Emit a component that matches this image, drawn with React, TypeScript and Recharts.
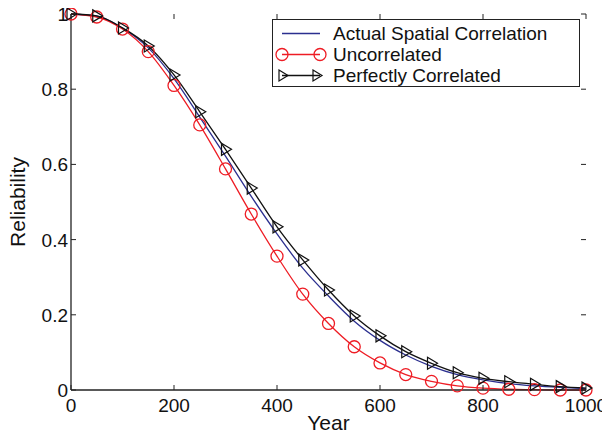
import { Label, Legend, Line, LineChart, XAxis, YAxis } from 'recharts';

const years = [0, 50, 100, 150, 200, 250, 300, 350, 400, 450, 500, 550, 600, 650, 700, 750, 800, 850, 900, 950, 1000];
const actual = [1, 0.994, 0.962, 0.91, 0.828, 0.726, 0.622, 0.515, 0.415, 0.324, 0.25, 0.183, 0.132, 0.093, 0.063, 0.041, 0.027, 0.017, 0.011, 0.007, 0.004];
const uncorrelated = [1, 0.992, 0.96, 0.9, 0.81, 0.705, 0.588, 0.468, 0.356, 0.255, 0.177, 0.115, 0.072, 0.041, 0.023, 0.011, 0.005, 0.002, 0.001, 0, 0];
const perfect = [1, 0.995, 0.963, 0.915, 0.838, 0.74, 0.64, 0.537, 0.434, 0.346, 0.266, 0.197, 0.144, 0.102, 0.071, 0.046, 0.031, 0.022, 0.015, 0.009, 0.005];
const xTicks = [0, 200, 400, 600, 800, 1000];
const yTicks = [0, 0.2, 0.4, 0.6, 0.8, 1];

const data = years.map((year, i) => ({
  year,
  actual: actual[i],
  uncorrelated: uncorrelated[i],
  perfect: perfect[i],
}));

const TOP = 6;
const BOTTOM = 382;
const LEFT = 63;
const RIGHT = 578;
const FONT = '"Liberation Sans", Arial, sans-serif';
const AXIS = '#222';
const RED = '#ee1c24';
const BLUE = '#2b2f8f';
const BLACK = '#111';

const XTick = (props: any) => {
  const x = props.payload.coordinate;
  return (
    <g>
      <line x1={x} x2={x} y1={BOTTOM} y2={BOTTOM - 5} stroke={AXIS} />
      <line x1={x} x2={x} y1={TOP} y2={TOP + 5} stroke={AXIS} />
      <text x={x} y={BOTTOM + 22} textAnchor="middle" fontSize={19} fontFamily={FONT} fill="#111">
        {props.payload.value}
      </text>
    </g>
  );
};

const YTick = (props: any) => {
  const y = props.payload.coordinate;
  return (
    <g>
      <line x1={LEFT} x2={LEFT + 5} y1={y} y2={y} stroke={AXIS} />
      <line x1={RIGHT} x2={RIGHT - 5} y1={y} y2={y} stroke={AXIS} />
      <text x={LEFT - 3} y={y + 7} textAnchor="end" fontSize={19} fontFamily={FONT} fill="#111">
        {props.payload.value}
      </text>
    </g>
  );
};

const Circle = (props: any) => {
  const { cx, cy } = props;
  if (cx == null || cy == null) return null;
  return <circle cx={cx} cy={cy} r={6} fill="none" stroke={RED} strokeWidth={1.3} />;
};

const Triangle = (props: any) => {
  const { cx, cy } = props;
  if (cx == null || cy == null) return null;
  return (
    <polygon
      points={`${cx - 4},${cy - 6} ${cx + 6},${cy} ${cx - 4},${cy + 6}`}
      fill="none"
      stroke={BLACK}
      strokeWidth={1.2}
    />
  );
};

const legendItems = [
  { name: 'Actual Spatial Correlation', color: BLUE, marker: 'none' },
  { name: 'Uncorrelated', color: RED, marker: 'circle' },
  { name: 'Perfectly Correlated', color: BLACK, marker: 'triangle' },
];

const LegendBox = () => (
  <div
    style={{
      border: '1px solid #222',
      background: '#fff',
      width: 308,
      height: 68,
      boxSizing: 'border-box',
      padding: '3px 0 0 0',
      fontFamily: FONT,
      fontSize: 19,
      color: '#111',
    }}
  >
    {legendItems.map((item) => (
      <div key={item.name} style={{ display: 'flex', alignItems: 'center', height: 21 }}>
        <svg width={56} height={21} style={{ flex: 'none' }}>
          <line x1={9} x2={47} y1={10.5} y2={10.5} stroke={item.color} strokeWidth={1.3} />
          {item.marker === 'circle' && (
            <>
              <circle cx={9} cy={10.5} r={6} fill="none" stroke={RED} strokeWidth={1.3} />
              <circle cx={47} cy={10.5} r={6} fill="none" stroke={RED} strokeWidth={1.3} />
            </>
          )}
          {item.marker === 'triangle' && (
            <>
              <polygon points="6,5 15,10.5 6,16" fill="none" stroke={BLACK} strokeWidth={1.2} />
              <polygon points="40,5 49,10.5 40,16" fill="none" stroke={BLACK} strokeWidth={1.2} />
            </>
          )}
        </svg>
        <span style={{ marginLeft: 4, whiteSpace: 'nowrap' }}>{item.name}</span>
      </div>
    ))}
  </div>
);

const YLabel = (props: any) => {
  const vb = props.viewBox;
  const cy = vb.y + vb.height / 2;
  return (
    <text
      x={17}
      y={cy}
      transform={`rotate(-90, 17, ${cy})`}
      textAnchor="middle"
      fontSize={21}
      fontFamily={FONT}
      fill="#111"
    >
      Reliability
    </text>
  );
};

const XLabel = (props: any) => {
  const vb = props.viewBox;
  return (
    <text x={vb.x + vb.width / 2} y={422} textAnchor="middle" fontSize={21} fontFamily={FONT} fill="#111">
      Year
    </text>
  );
};

export default function App() {
  return (
    <div style={{ width: 610, height: 435, background: '#fff' }}>
      <LineChart width={610} height={435} data={data} margin={{ top: TOP, right: 32, bottom: 0, left: 0 }}>
        <XAxis
          dataKey="year"
          type="number"
          domain={[0, 1000]}
          ticks={xTicks}
          tickLine={false}
          tick={<XTick />}
          axisLine={{ stroke: AXIS, strokeWidth: 1.3 }}
          height={53}
          interval={0}
        >
          <Label content={<XLabel />} />
        </XAxis>
        <XAxis xAxisId="top" orientation="top" dataKey="year" type="number" domain={[0, 1000]} tick={false} tickLine={false} axisLine={{ stroke: AXIS, strokeWidth: 1.3 }} height={0} />
        <YAxis
          type="number"
          domain={[0, 1]}
          ticks={yTicks}
          tickLine={false}
          tick={<YTick />}
          axisLine={{ stroke: AXIS, strokeWidth: 1.3 }}
          width={63}
          interval={0}
        >
          <Label content={<YLabel />} />
        </YAxis>
        <YAxis yAxisId="right" orientation="right" type="number" domain={[0, 1]} tick={false} tickLine={false} axisLine={{ stroke: AXIS, strokeWidth: 1.3 }} width={0} />
        <Legend
          layout="horizontal"
          verticalAlign="middle"
          content={<LegendBox />}
          wrapperStyle={{ top: 11, left: 264, width: 308, height: 68 }}
        />
        <Line type="monotone" dataKey="actual" stroke={BLUE} strokeWidth={1.3} dot={false} isAnimationActive={false} />
        <Line type="monotone" dataKey="uncorrelated" stroke={RED} strokeWidth={1.3} dot={<Circle />} activeDot={false} isAnimationActive={false} />
        <Line type="monotone" dataKey="perfect" stroke={BLACK} strokeWidth={1.3} dot={<Triangle />} activeDot={false} isAnimationActive={false} />
      </LineChart>
    </div>
  );
}
